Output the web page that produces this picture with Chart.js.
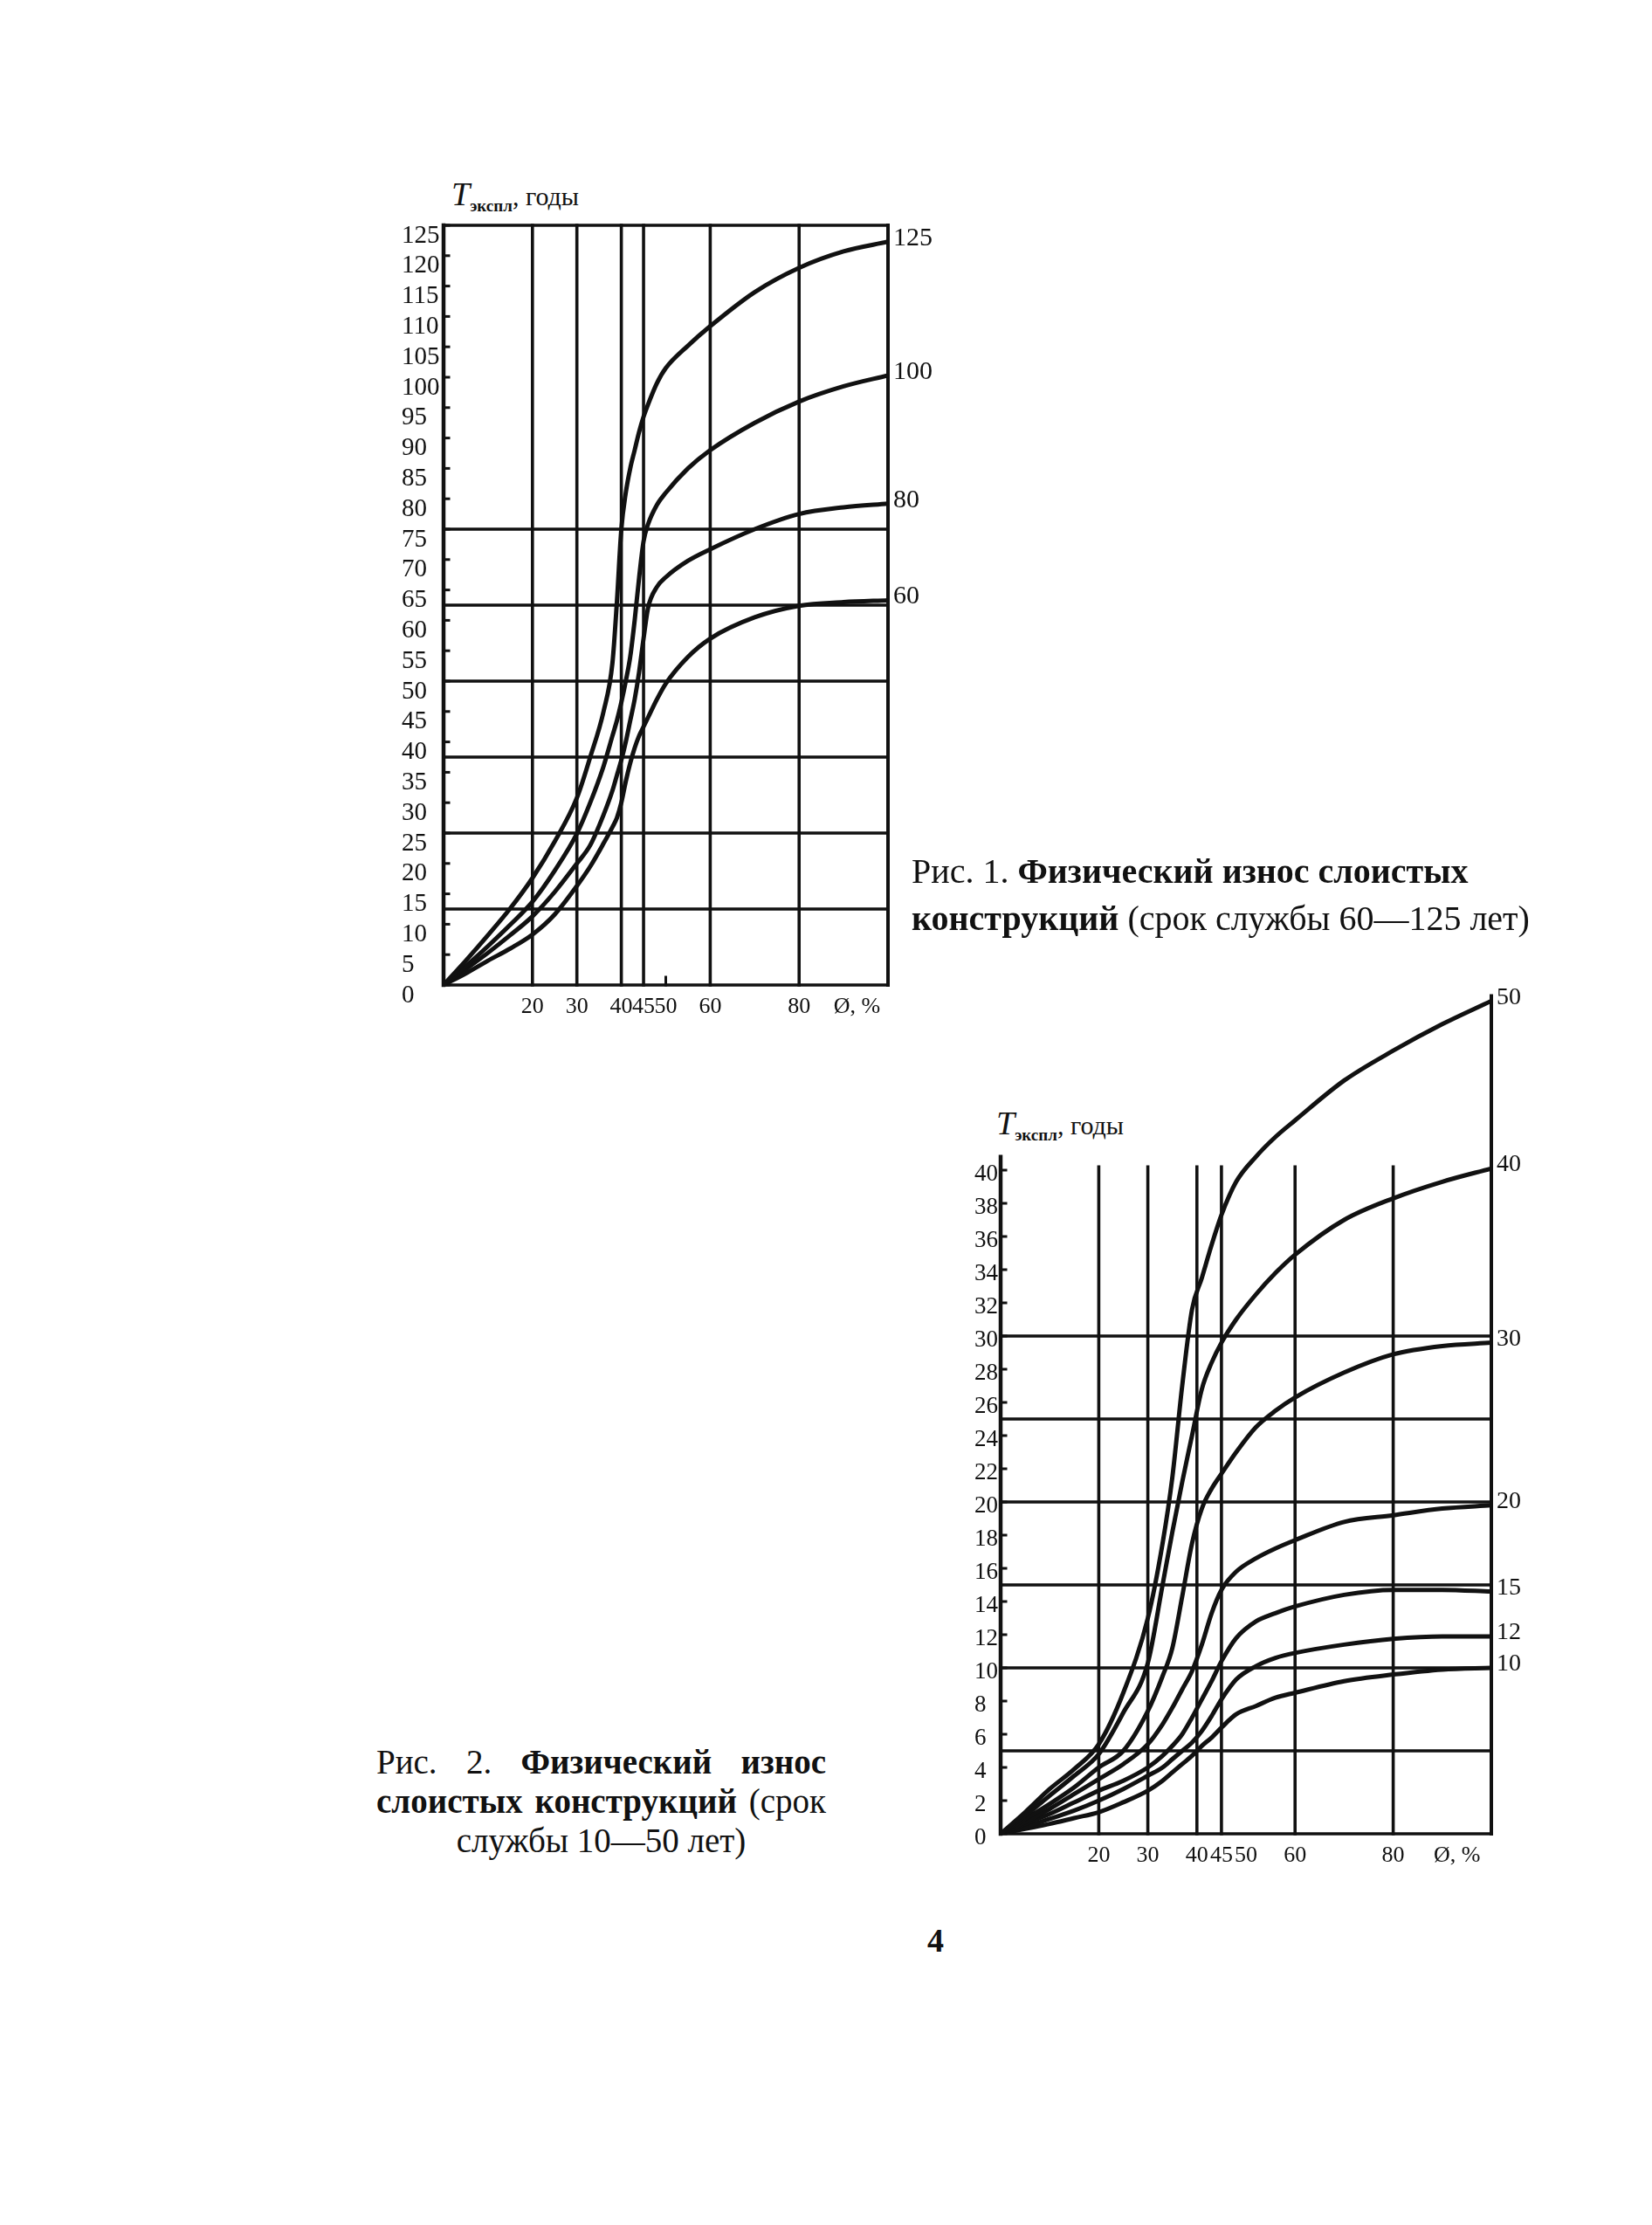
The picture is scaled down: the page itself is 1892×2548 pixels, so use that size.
<!DOCTYPE html>
<html>
<head>
<meta charset="utf-8">
<script src="https://cdn.jsdelivr.net/npm/chart.js"></script>
<style>
  body { margin: 0; background: #fff; width: 1892px; height: 2548px; position: relative; font-family: "Liberation Serif", serif; color: #111; }
  .box { position: absolute; }
  .ttl { position: absolute; font-size: 30px; white-space: nowrap; }
  .ttl i { font-size: 38px; }
  .ttl sub { font-size: 19px; font-weight: bold; }
  .cap { position: absolute; font-size: 40px; }
  .cap b { font-weight: bold; }
  .jl { text-align: justify; text-align-last: justify; }
</style>
</head>
<body>

<div class="ttl" style="left:517px;top:200px"><i>T</i><sub>экспл</sub>, годы</div>
<div class="box" style="left:460px;top:220px;width:640px;height:970px"><canvas id="fig1"></canvas></div>
<div class="cap" style="left:1044px;top:971px;line-height:54px">Рис. 1. <b>Физический износ слоистых<br>конструкций</b> (срок службы 60—125 лет)</div>

<div class="ttl" style="left:1141px;top:1264px"><i>T</i><sub>экспл</sub>, годы</div>
<div class="box" style="left:1116px;top:1100px;width:687px;height:1070px"><canvas id="fig2"></canvas></div>
<div class="cap" style="left:431px;top:1995px;width:515px;line-height:45px;font-size:39px">
  <div class="jl">Рис. 2. <b>Физический износ</b></div>
  <div class="jl"><b>слоистых конструкций</b> (срок</div>
  <div style="text-align:center">службы 10—50 лет)</div>
</div>

<div class="cap" style="left:1062px;top:2200px;font-weight:bold;font-size:38px">4</div>

<script>
    // Рис. 1: износ, % и срок эксплуатации по кривым (срок службы 60–125 лет)
    var wear1 = [0, 5, 10, 15, 20, 25, 30, 33, 36, 38, 39, 40, 41, 42, 43, 44, 45, 46, 48, 50, 55, 60, 70, 80, 90, 100];
    var life125 = [0, 4.0, 8.2, 12.6, 17.6, 23.6, 30.8, 37.5, 45, 53, 63, 75, 81, 85, 88, 91, 93.5, 95.5, 99, 101.5, 105.2, 108.4, 114, 118, 120.7, 122.3];
    var life100 = [0, 3.1, 6.4, 9.9, 13.7, 18.8, 24.9, 30, 36, 41, 43.5, 46.5, 50, 54, 60, 67, 73, 75.8, 79, 81, 85, 88, 92.5, 96, 98.5, 100.3];
    var life80 = [0, 2.6, 5.3, 8.2, 11.3, 15.3, 20, 23, 28, 32, 34.5, 37, 40, 43.5, 47, 51.5, 57, 62, 65.5, 67.1, 69.8, 71.7, 75, 77.5, 78.6, 79.2];
    var life60 = [0, 1.9, 4.0, 6.0, 8.3, 11.6, 16.3, 19.5, 23.3, 26, 27.5, 30, 33.5, 36.5, 39, 41, 42.5, 44, 47, 49.6, 54, 57, 60.5, 62.4, 63, 63.3];
    var names1 = ['125', '100', '80', '60'];
    var yTicks1 = [0, 5, 10, 15, 20, 25, 30, 35, 40, 45, 50, 55, 60, 65, 70, 75, 80, 85, 90, 95, 100, 105, 110, 115, 120, 125];
    var yGrid1 = [0, 12.5, 25, 37.5, 50, 62.5, 75, 125];

    // Рис. 2: срок службы 10–50 лет
    var wear2 = [0, 5, 10, 15, 20, 25, 30, 33, 35, 37, 39, 41, 43, 45, 48, 52, 56, 60, 70, 80, 90, 100];
    var life50 = [0, 1.3, 2.7, 3.9, 5.4, 8.5, 13, 17.5, 21.5, 27, 31.6, 33.5, 35.5, 37.3, 39.3, 40.8, 42, 43, 45.4, 47.2, 48.8, 50.2];
    var life40 = [0, 1.1, 2.3, 3.5, 4.8, 7.3, 10.3, 15, 18.2, 21.2, 24, 26.8, 28.4, 29.6, 31, 32.5, 33.8, 34.9, 37, 38.3, 39.3, 40.1];
    var life30 = [0, 0.9, 1.8, 2.8, 4.0, 5.0, 7.4, 9.5, 11.2, 14.3, 17.5, 19.6, 20.8, 21.7, 23, 24.5, 25.5, 26.3, 27.8, 28.9, 29.4, 29.6];
    var life20 = [0, 0.7, 1.5, 2.4, 3.3, 4.2, 5.4, 6.6, 7.6, 8.7, 9.8, 11.4, 13.3, 14.7, 15.8, 16.6, 17.2, 17.7, 18.8, 19.2, 19.6, 19.8];
    var life15 = [0, 0.6, 1.2, 1.9, 2.6, 3.2, 4.0, 4.7, 5.3, 6.0, 7.0, 8.1, 9.2, 10.4, 11.8, 12.8, 13.3, 13.7, 14.4, 14.7, 14.7, 14.6];
    var life12 = [0, 0.4, 0.9, 1.4, 2.0, 2.7, 3.5, 4.0, 4.5, 5.0, 5.5, 6.2, 7.1, 8.1, 9.3, 10.1, 10.6, 10.9, 11.4, 11.75, 11.9, 11.9];
    var life10 = [0, 0.3, 0.6, 0.95, 1.3, 1.9, 2.6, 3.2, 3.7, 4.2, 4.7, 5.3, 5.8, 6.4, 7.2, 7.7, 8.2, 8.5, 9.2, 9.6, 9.9, 10];
    var names2 = ['50', '40', '30', '20', '15', '12', '10'];
    var yTicks2 = [0, 2, 4, 6, 8, 10, 12, 14, 16, 18, 20, 22, 24, 26, 28, 30, 32, 34, 36, 38, 40];
    var yGrid2 = [0, 5, 10, 15, 20, 25, 30];

    // общая шкала износа
    var xTickVals = [20, 30, 40, 45, 50, 60, 80, 93];
    var xTickText = ['20', '30', '40', '45', '50', '60', '80', 'Ø, %'];
    var xGrid = [20, 30, 40, 45, 60, 80];

    var INK = '#111';

    // сетка, рамка и подписи кривых
    var framePlugin = {
        id: 'frame',
        beforeDatasetsDraw: function(chart, args, o) {
            var ctx = chart.ctx, sx = chart.scales.x, sy = chart.scales.y;
            ctx.save();
            ctx.strokeStyle = INK;
            ctx.lineCap = 'square';
            function seg(x1, y1, x2, y2, w) {
                ctx.lineWidth = w;
                ctx.beginPath();
                ctx.moveTo(sx.getPixelForValue(x1), sy.getPixelForValue(y1));
                ctx.lineTo(sx.getPixelForValue(x2), sy.getPixelForValue(y2));
                ctx.stroke();
            }
            o.hGrid.forEach(function(v) { seg(0, v, 100, v, 3.6); });
            xGrid.forEach(function(v) { seg(v, 0, v, o.vTop, 3.6); });
            seg(0, 0, 0, o.axisTop, 4.5);
            seg(100, 0, 100, o.rightTop, 4);
            // короткие засечки у меток осей
            ctx.lineWidth = 3;
            o.yTicks.forEach(function(v) {
                var px = sx.getPixelForValue(0), py = sy.getPixelForValue(v);
                ctx.beginPath();
                ctx.moveTo(px, py);
                ctx.lineTo(px + 6, py);
                ctx.stroke();
            });
            (o.xNubs || []).forEach(function(v) {
                var px = sx.getPixelForValue(v), py = sy.getPixelForValue(0);
                ctx.beginPath();
                ctx.moveTo(px, py);
                ctx.lineTo(px, py - 9);
                ctx.stroke();
            });
            ctx.restore();
        },
        afterDatasetsDraw: function(chart, args, o) {
            var ctx = chart.ctx, sx = chart.scales.x, sy = chart.scales.y;
            ctx.save();
            ctx.fillStyle = INK;
            ctx.font = o.fontSize + 'px "Liberation Serif"';
            ctx.textAlign = 'left';
            ctx.textBaseline = 'middle';
            chart.data.datasets.forEach(function(ds) {
                var n = ds.data.length - 1;
                var px = sx.getPixelForValue(chart.data.labels[n]);
                var py = sy.getPixelForValue(ds.data[n]);
                ctx.fillText(ds.label, px + 6, py - 4);
            });
            ctx.restore();
        }
    };

    function makeChart(id, wear, series, names, cfg) {
        var ctx = document.getElementById(id).getContext('2d');
        return new Chart(ctx, {
            type: 'line',
            data: {
                labels: wear,
                datasets: series.map(function(s, i) {
                    return {
                        label: names[i],
                        data: s,
                        borderColor: INK,
                        borderWidth: 5,
                        pointRadius: 0,
                        fill: false,
                        cubicInterpolationMode: 'monotone'
                    };
                })
            },
            options: {
                responsive: true,
                maintainAspectRatio: false,
                animation: false,
                layout: { padding: cfg.padding },
                plugins: {
                    legend: { display: false },
                    tooltip: { enabled: false },
                    frame: cfg.frame
                },
                scales: {
                    x: {
                        type: 'linear',
                        min: 0,
                        max: 100,
                        grid: { display: false },
                        border: { display: false },
                        afterBuildTicks: function(scale) {
                            scale.ticks = xTickVals.map(function(v) { return { value: v }; });
                        },
                        afterFit: function(scale) { scale.height = cfg.xHeight; },
                        ticks: {
                            autoSkip: false,
                            maxRotation: 0,
                            padding: cfg.xPad,
                            color: INK,
                            font: { family: 'Liberation Serif', size: cfg.xFont },
                            callback: function(v, i) { return xTickText[i]; }
                        }
                    },
                    y: {
                        min: 0,
                        max: cfg.yMax,
                        grid: { display: false },
                        border: { display: false },
                        afterBuildTicks: function(scale) {
                            scale.ticks = cfg.yTicks.map(function(v) { return { value: v }; });
                        },
                        afterFit: function(scale) { scale.width = cfg.yWidth; },
                        ticks: {
                            autoSkip: false,
                            crossAlign: 'far',
                            labelOffset: cfg.labelOffset,
                            color: INK,
                            font: { family: 'Liberation Serif', size: cfg.fontSize }
                        }
                    }
                }
            },
            plugins: [framePlugin]
        });
    }

    makeChart('fig1', wear1, [life125, life100, life80, life60], names1, {
        padding: { left: 0, top: 38, right: 83, bottom: 0 },
        xHeight: 62, xPad: 2, xFont: 26, yWidth: 48, yMax: 125, yTicks: yTicks1, fontSize: 29, labelOffset: 12,
        frame: { hGrid: yGrid1, vTop: 125, axisTop: 125, rightTop: 125, yTicks: yTicks1, xNubs: [50], fontSize: 30 }
    });

    makeChart('fig2', wear2, [life50, life40, life30, life20, life15, life12, life10], names2, {
        padding: { left: 0, top: 40.5, right: 95, bottom: 0 },
        xHeight: 70, xPad: 2, xFont: 26, yWidth: 30, yMax: 50.5, yTicks: yTicks2, fontSize: 27, labelOffset: 5,
        frame: { hGrid: yGrid2, vTop: 40.2, axisTop: 40.8, rightTop: 50.5, yTicks: yTicks2, fontSize: 28 }
    });
</script>
</body>
</html>
